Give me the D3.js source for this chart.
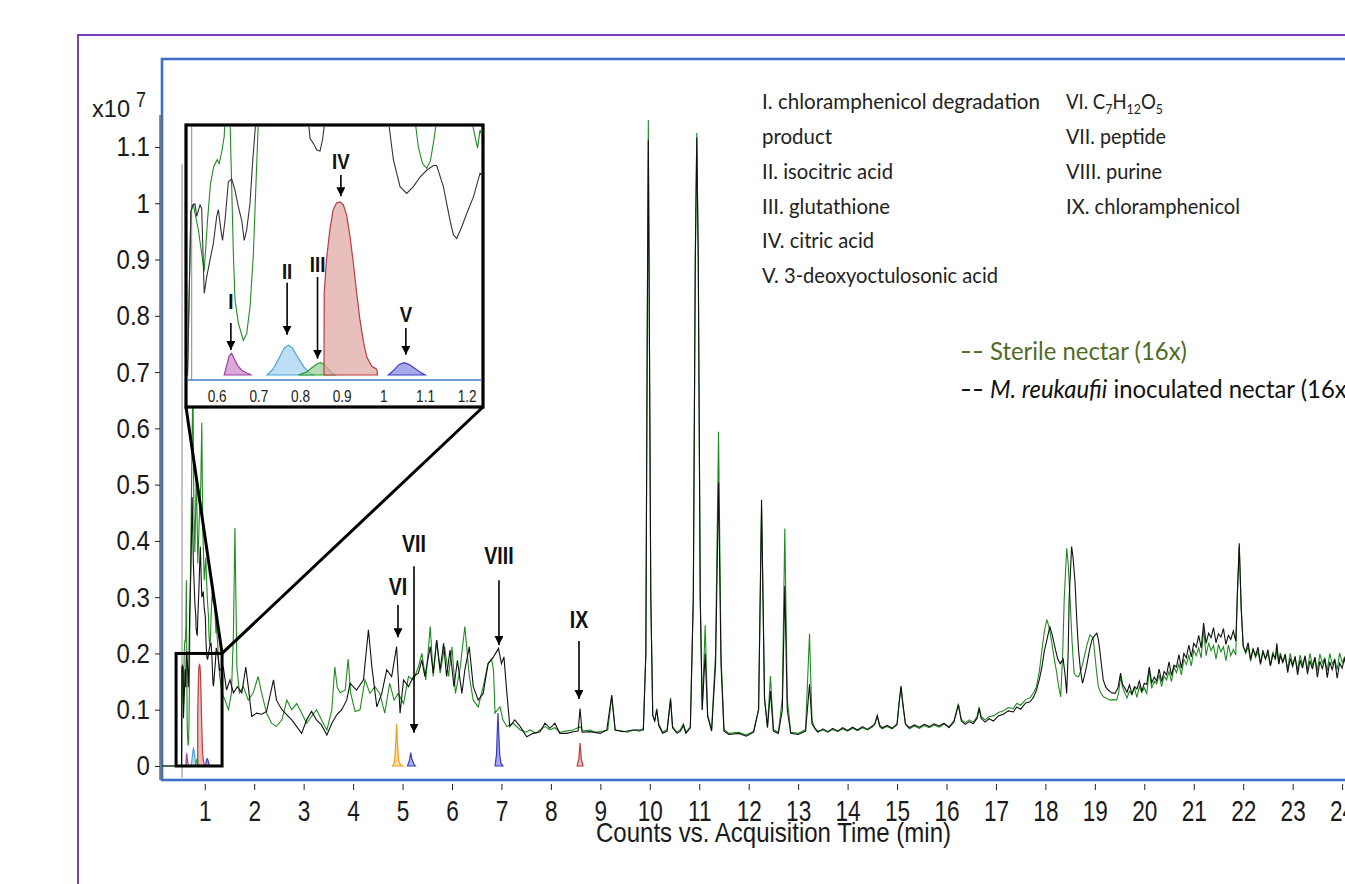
<!DOCTYPE html>
<html><head><meta charset="utf-8">
<script src="https://cdn.jsdelivr.net/npm/d3@7"></script>
<style>body{margin:0;background:#fff;overflow:hidden} svg{display:block}</style>
</head><body>
<svg id="c" width="1345" height="884"></svg>
<script>
// ---------------- DATA ----------------
const yTickValues = [0,0.1,0.2,0.3,0.4,0.5,0.6,0.7,0.8,0.9,1,1.1];
const yTickLabels = ["0","0.1","0.2","0.3","0.4","0.5","0.6","0.7","0.8","0.9","1","1.1"];
const xTickValues = [1,2,3,4,5,6,7,8,9,10,11,12,13,14,15,16,17,18,19,20,21,22,23,24];
const insetTickValues = [0.6,0.7,0.8,0.9,1,1.1,1.2];
const insetTickLabels = ["0.6","0.7","0.8","0.9","1","1.1","1.2"];

// Sterile nectar (green) TIC: [time (min), counts x10^7]
const sterileTrace = [
[0.14,0],[0.53,0],[0.538,0.17],[0.544,0.177],[0.556,0.151],[0.570,0.108],[0.578,0.161],[0.585,0.199],[0.593,0.217],[0.601,0.224],[0.606,0.220],[0.612,0.232],[0.618,0.248],[0.624,0.30],[0.628,0.33],[0.632,0.265],[0.636,0.196],[0.640,0.126],[0.644,0.078],[0.652,0.054],[0.664,0.036],[0.672,0.043],[0.680,0.071],[0.688,0.126],[0.694,0.196],[0.700,0.265],[0.72,0.40],[0.74,0.55],[0.76,0.69],[0.78,0.46],[0.80,0.38],[0.83,0.52],[0.86,0.36],[0.89,0.44],[0.92,0.50],[0.94,0.61],[0.96,0.42],[0.99,0.33],[1.02,0.37],[1.05,0.30],[1.076,0.265],[1.084,0.237],[1.094,0.220],[1.104,0.215],[1.113,0.223],[1.121,0.244],[1.128,0.265],[1.15,0.31],[1.17,0.29],[1.19,0.30],[1.212,0.265],[1.220,0.248],[1.226,0.236],[1.232,0.255],[1.26,0.22],[1.30,0.16],[1.35,0.13],[1.41,0.117],[1.48,0.10],[1.54,0.13],[1.58,0.236],[1.61,0.423],[1.65,0.176],[1.70,0.13],[1.78,0.141],[1.88,0.117],[1.98,0.13],[2.08,0.159],[2.15,0.13],[2.25,0.094],[2.35,0.076],[2.45,0.07],[2.56,0.082],[2.66,0.117],[2.76,0.10],[2.86,0.111],[2.96,0.094],[3.06,0.076],[3.16,0.088],[3.26,0.10],[3.36,0.082],[3.47,0.064],[3.57,0.10],[3.63,0.176],[3.68,0.14],[3.74,0.13],[3.84,0.135],[3.90,0.19],[3.95,0.13],[4.04,0.097],[4.14,0.10],[4.24,0.153],[4.34,0.129],[4.44,0.141],[4.54,0.129],[4.64,0.094],[4.74,0.147],[4.83,0.117],[4.91,0.129],[5.02,0.111],[5.12,0.159],[5.22,0.153],[5.32,0.176],[5.39,0.20],[5.47,0.153],[5.56,0.248],[5.62,0.159],[5.69,0.224],[5.76,0.165],[5.85,0.212],[5.93,0.159],[6.00,0.212],[6.07,0.129],[6.16,0.171],[6.26,0.248],[6.35,0.159],[6.43,0.117],[6.53,0.105],[6.63,0.141],[6.73,0.182],[6.80,0.19],[6.84,0.17],[6.87,0.094],[6.92,0.10],[6.97,0.105],[7.03,0.082],[7.11,0.07],[7.24,0.076],[7.38,0.064],[7.50,0.060],[7.58,0.064],[7.70,0.058],[7.78,0.064],[7.88,0.070],[7.98,0.064],[8.08,0.068],[8.18,0.060],[8.30,0.062],[8.45,0.064],[8.59,0.070],[8.65,0.062],[8.79,0.064],[8.90,0.060],[9.05,0.062],[9.15,0.064],[9.23,0.123],[9.30,0.064],[9.45,0.062],[9.55,0.060],[9.67,0.064],[9.80,0.062],[9.87,0.067],[9.92,0.2],[9.95,0.8],[9.97,1.148],[9.99,0.8],[10.02,0.3],[10.06,0.09],[10.10,0.08],[10.14,0.102],[10.18,0.075],[10.26,0.06],[10.35,0.065],[10.42,0.121],[10.46,0.07],[10.55,0.06],[10.62,0.065],[10.68,0.075],[10.73,0.06],[10.82,0.07],[10.88,0.3],[10.92,0.9],[10.95,1.125],[10.98,0.9],[11.02,0.3],[11.06,0.1],[11.12,0.25],[11.17,0.09],[11.25,0.065],[11.33,0.2],[11.39,0.594],[11.44,0.2],[11.50,0.065],[11.60,0.058],[11.80,0.060],[11.95,0.055],[12.10,0.062],[12.20,0.10],[12.26,0.457],[12.32,0.12],[12.38,0.07],[12.44,0.16],[12.50,0.065],[12.60,0.06],[12.68,0.12],[12.73,0.422],[12.78,0.12],[12.85,0.06],[13.00,0.058],[13.15,0.065],[13.23,0.235],[13.28,0.08],
[13.35,0.066],[13.4,0.062],[13.5,0.064],[13.6,0.06],[13.7,0.065],[13.8,0.061],[13.9,0.066],[14.0,0.062],[14.1,0.067],[14.2,0.063],[14.3,0.068],[14.4,0.064],[14.5,0.069],[14.55,0.074],[14.6,0.088],[14.65,0.07],[14.7,0.066],[14.8,0.07],[14.9,0.066],[15.0,0.073],[15.05,0.118],[15.08,0.14],[15.12,0.105],[15.17,0.074],[15.25,0.066],[15.35,0.071],[15.45,0.067],[15.55,0.072],[15.65,0.068],[15.75,0.073],[15.85,0.069],[15.95,0.074],[16.05,0.07],[16.15,0.08],[16.24,0.111],[16.3,0.083],[16.38,0.077],[16.46,0.082],[16.54,0.078],[16.62,0.088],[16.66,0.105],[16.7,0.088],[16.78,0.082],[16.86,0.088],[16.95,0.089],[17.05,0.095],[17.15,0.098],[17.25,0.104],[17.35,0.102],[17.42,0.111],[17.5,0.108],[17.6,0.118],[17.69,0.121],[17.76,0.13],[17.82,0.141],[17.88,0.17],[17.93,0.206],[17.98,0.24],[18.03,0.26],[18.08,0.245],[18.12,0.224],[18.18,0.19],[18.23,0.165],[18.27,0.14],[18.31,0.123],[18.35,0.2],[18.38,0.295],[18.43,0.387],[18.46,0.36],[18.50,0.295],[18.54,0.22],[18.58,0.165],[18.62,0.16],[18.67,0.159],[18.72,0.17],[18.77,0.188],[18.84,0.215],[18.90,0.233],[18.94,0.23],[18.97,0.224],[19.02,0.18],[19.07,0.141],[19.12,0.13],[19.17,0.123],[19.24,0.12],[19.31,0.117],[19.38,0.118],[19.44,0.117],[19.48,0.13],[19.52,0.159],[19.56,0.14],[19.61,0.129],
[19.65,0.121],[19.7,0.133],[19.75,0.127],[19.8,0.139],[19.85,0.122],[19.9,0.141],[19.95,0.131],[20.0,0.139],[20.05,0.129],[20.1,0.171],[20.15,0.138],[20.2,0.151],[20.25,0.146],[20.3,0.162],[20.35,0.141],[20.4,0.16],[20.45,0.153],[20.5,0.168],[20.55,0.15],[20.6,0.176],[20.65,0.166],[20.7,0.181],[20.75,0.162],[20.8,0.19],[20.85,0.18],[20.9,0.196],[20.95,0.178],[21.0,0.206],[21.05,0.196],[21.1,0.21],[21.15,0.192],[21.2,0.242],[21.25,0.196],[21.3,0.219],[21.35,0.205],[21.4,0.214],[21.45,0.19],[21.5,0.216],[21.55,0.203],[21.6,0.212],[21.65,0.187],[21.7,0.215],[21.75,0.196],[21.8,0.207],[21.85,0.197],[21.88,0.3],[21.92,0.39],[21.96,0.28],[22.0,0.214],[22.05,0.2],[22.1,0.212],[22.15,0.186],[22.2,0.208],[22.25,0.193],[22.3,0.204],[22.35,0.18],[22.4,0.206],[22.45,0.191],[22.5,0.199],[22.55,0.178],[22.6,0.203],[22.65,0.188],[22.68,0.206],[22.72,0.182],[22.75,0.201],[22.8,0.186],[22.85,0.194],[22.9,0.172],[22.95,0.2],[23.0,0.181],[23.05,0.192],[23.1,0.17],[23.15,0.197],[23.2,0.18],[23.25,0.194],[23.3,0.171],[23.35,0.2],[23.4,0.179],[23.45,0.193],[23.5,0.17],[23.55,0.199],[23.6,0.183],[23.65,0.192],[23.7,0.169],[23.75,0.2],[23.8,0.181],[23.85,0.19],[23.9,0.171],[23.95,0.201],[24.0,0.184],[24.05,0.193],[24.1,0.176]
];

// M. reukaufii inoculated nectar (black) TIC
const inoculatedTrace = [
[0.14,0],[0.53,0],[0.538,0.17],[0.542,0.177],[0.548,0.178],[0.552,0.165],[0.560,0.177],[0.564,0.173],[0.570,0.085],[0.576,0.102],[0.584,0.120],[0.592,0.137],[0.600,0.165],[0.604,0.172],[0.610,0.151],[0.614,0.140],[0.620,0.161],[0.628,0.201],[0.636,0.204],[0.644,0.192],[0.652,0.175],[0.660,0.161],[0.666,0.140],[0.672,0.151],[0.680,0.179],[0.686,0.220],[0.694,0.265],[0.72,0.35],[0.745,0.478],[0.77,0.36],[0.80,0.29],[0.820,0.265],[0.824,0.246],[0.832,0.241],[0.840,0.234],[0.848,0.233],[0.854,0.245],[0.860,0.265],[0.88,0.31],[0.91,0.39],[0.94,0.30],[0.97,0.31],[0.99,0.28],[1.012,0.265],[1.024,0.224],[1.040,0.196],[1.056,0.189],[1.072,0.196],[1.088,0.206],[1.104,0.213],[1.120,0.218],[1.128,0.218],[1.144,0.196],[1.160,0.161],[1.168,0.146],[1.176,0.142],[1.188,0.154],[1.200,0.168],[1.216,0.185],[1.232,0.210],[1.26,0.20],[1.30,0.17],[1.375,0.176],[1.44,0.135],[1.51,0.153],[1.58,0.13],[1.66,0.141],[1.75,0.13],[1.83,0.176],[1.88,0.141],[1.95,0.088],[2.05,0.094],[2.15,0.092],[2.25,0.097],[2.39,0.153],[2.45,0.117],[2.56,0.10],[2.66,0.091],[2.76,0.082],[2.86,0.07],[2.96,0.058],[3.06,0.082],[3.16,0.097],[3.26,0.082],[3.36,0.073],[3.47,0.055],[3.57,0.076],[3.67,0.091],[3.77,0.10],[3.87,0.117],[3.94,0.147],[4.07,0.135],[4.21,0.153],[4.31,0.242],[4.38,0.176],[4.48,0.105],[4.58,0.129],[4.68,0.171],[4.78,0.159],[4.88,0.212],[4.95,0.094],[5.02,0.153],[5.12,0.141],[5.22,0.159],[5.32,0.165],[5.39,0.188],[5.45,0.159],[5.56,0.212],[5.62,0.165],[5.69,0.224],[5.76,0.171],[5.83,0.218],[5.89,0.159],[5.96,0.206],[6.04,0.141],[6.11,0.188],[6.20,0.129],[6.26,0.171],[6.35,0.212],[6.43,0.141],[6.53,0.117],[6.63,0.129],[6.73,0.182],[6.84,0.194],[6.94,0.209],[7.00,0.182],[7.05,0.194],[7.11,0.129],[7.17,0.07],[7.27,0.082],[7.38,0.07],[7.51,0.052],[7.64,0.058],[7.78,0.061],[7.88,0.076],[7.98,0.067],[8.08,0.076],[8.18,0.058],[8.32,0.058],[8.45,0.061],[8.55,0.062],[8.59,0.102],[8.63,0.06],[8.79,0.061],[9.00,0.058],[9.13,0.064],[9.23,0.126],[9.30,0.064],[9.46,0.061],[9.67,0.064],[9.87,0.064],[9.92,0.2],[9.95,0.8],[9.97,1.113],[9.99,0.8],[10.02,0.3],[10.06,0.09],[10.10,0.08],[10.14,0.10],[10.18,0.072],[10.26,0.058],[10.35,0.062],[10.42,0.118],[10.46,0.068],[10.55,0.058],[10.62,0.062],[10.68,0.072],[10.73,0.058],[10.82,0.068],[10.88,0.3],[10.92,0.9],[10.95,1.117],[10.98,0.9],[11.02,0.3],[11.06,0.1],[11.12,0.2],[11.17,0.088],[11.25,0.062],[11.33,0.18],[11.39,0.504],[11.44,0.18],[11.50,0.062],[11.60,0.056],[11.80,0.058],[11.95,0.053],[12.10,0.06],[12.20,0.10],[12.26,0.473],[12.32,0.12],[12.38,0.068],[12.44,0.133],[12.50,0.062],[12.60,0.058],[12.68,0.10],[12.73,0.32],[12.78,0.10],[12.85,0.058],[13.00,0.056],[13.15,0.062],[13.23,0.145],[13.28,0.075],
[13.35,0.065],[13.4,0.060],[13.5,0.066],[13.6,0.061],[13.7,0.067],[13.8,0.062],[13.9,0.068],[14.0,0.063],[14.1,0.069],[14.2,0.064],[14.3,0.070],[14.4,0.065],[14.5,0.071],[14.55,0.075],[14.6,0.090],[14.65,0.072],[14.7,0.068],[14.8,0.072],[14.9,0.067],[15.0,0.075],[15.05,0.12],[15.08,0.142],[15.12,0.11],[15.17,0.075],[15.25,0.068],[15.35,0.073],[15.45,0.069],[15.55,0.074],[15.65,0.070],[15.75,0.075],[15.85,0.071],[15.95,0.076],[16.05,0.068],[16.15,0.078],[16.24,0.108],[16.3,0.08],[16.38,0.074],[16.46,0.079],[16.54,0.075],[16.62,0.085],[16.66,0.102],[16.7,0.085],[16.78,0.078],[16.86,0.084],[16.95,0.080],[17.05,0.089],[17.15,0.092],[17.25,0.098],[17.35,0.096],[17.42,0.105],[17.5,0.101],[17.6,0.112],[17.69,0.114],[17.76,0.122],[17.82,0.135],[17.88,0.155],[17.93,0.176],[17.98,0.205],[18.03,0.224],[18.09,0.248],[18.14,0.232],[18.19,0.212],[18.25,0.19],[18.3,0.182],[18.36,0.19],[18.4,0.16],[18.43,0.129],[18.46,0.2],[18.48,0.295],[18.53,0.39],[18.56,0.37],[18.60,0.325],[18.64,0.25],[18.67,0.206],[18.71,0.17],[18.75,0.147],[18.79,0.16],[18.83,0.176],[18.89,0.205],[18.94,0.224],[19.0,0.232],[19.04,0.236],[19.07,0.225],[19.10,0.206],[19.14,0.175],[19.17,0.153],[19.22,0.14],[19.27,0.135],[19.34,0.13],[19.41,0.129],[19.47,0.14],[19.52,0.165],[19.56,0.145],[19.61,0.138],
[19.65,0.131],[19.7,0.144],[19.75,0.128],[19.8,0.141],[19.85,0.137],[19.9,0.151],[19.95,0.133],[20.0,0.147],[20.05,0.145],[20.1,0.176],[20.15,0.148],[20.2,0.158],[20.25,0.151],[20.3,0.172],[20.35,0.150],[20.4,0.168],[20.45,0.162],[20.5,0.185],[20.55,0.161],[20.6,0.179],[20.65,0.176],[20.7,0.198],[20.75,0.174],[20.8,0.2],[20.85,0.192],[20.9,0.215],[20.95,0.194],[21.0,0.218],[21.05,0.211],[21.1,0.232],[21.15,0.21],[21.2,0.254],[21.25,0.218],[21.3,0.236],[21.35,0.228],[21.4,0.246],[21.45,0.219],[21.5,0.235],[21.55,0.229],[21.6,0.244],[21.65,0.216],[21.7,0.232],[21.75,0.225],[21.8,0.24],[21.85,0.222],[21.88,0.3],[21.92,0.396],[21.96,0.28],[22.0,0.212],[22.05,0.203],[22.1,0.219],[22.15,0.19],[22.2,0.208],[22.25,0.196],[22.3,0.211],[22.35,0.182],[22.4,0.203],[22.45,0.19],[22.5,0.207],[22.55,0.178],[22.6,0.198],[22.65,0.192],[22.68,0.218],[22.72,0.181],[22.75,0.196],[22.8,0.184],[22.85,0.199],[22.9,0.166],[22.95,0.191],[23.0,0.177],[23.05,0.195],[23.1,0.162],[23.15,0.188],[23.2,0.174],[23.25,0.196],[23.3,0.163],[23.35,0.187],[23.4,0.172],[23.45,0.193],[23.5,0.158],[23.55,0.186],[23.6,0.173],[23.65,0.19],[23.7,0.157],[23.75,0.185],[23.8,0.171],[23.85,0.189],[23.9,0.156],[23.95,0.183],[24.0,0.174],[24.05,0.192],[24.1,0.165]
];

// Extracted-ion peaks (filled)
const peakI    = [[0.618,0],[0.624,0.010],[0.630,0.020],[0.636,0.0226],[0.642,0.017],[0.650,0.010],[0.660,0.005],[0.672,0.002],[0.684,0]];
const peakII   = [[0.721,0],[0.735,0.006],[0.750,0.018],[0.762,0.028],[0.772,0.031],[0.782,0.028],[0.795,0.018],[0.810,0.008],[0.822,0.003],[0.832,0]];
const peakIII  = [[0.796,0],[0.815,0.003],[0.830,0.008],[0.842,0.012],[0.850,0.0128],[0.858,0.011],[0.868,0.006],[0.878,0.002],[0.884,0]];
const peakIV   = [[0.8575,0],[0.858,0.085],[0.8635,0.12],[0.8715,0.151],[0.8795,0.172],[0.8875,0.179],[0.896,0.180],[0.904,0.177],[0.912,0.166],[0.920,0.144],[0.928,0.116],[0.936,0.085],[0.944,0.057],[0.952,0.035],[0.960,0.019],[0.972,0.009],[0.984,0.006],[0.986,0]];
const peakV    = [[1.012,0],[1.025,0.005],[1.038,0.011],[1.050,0.0128],[1.062,0.011],[1.075,0.007],[1.088,0.003],[1.100,0]];
const peakVI   = [[4.80,0],[4.84,0.008],[4.865,0.045],[4.88,0.075],[4.895,0.045],[4.92,0.010],[4.96,0.002],[5.00,0]];
const peakVII  = [[5.10,0],[5.14,0.010],[5.165,0.024],[5.19,0.012],[5.23,0.003],[5.26,0]];
const peakVIII = [[6.87,0],[6.90,0.02],[6.915,0.06],[6.93,0.094],[6.945,0.06],[6.965,0.02],[6.99,0.005],[7.03,0]];
const peakIX   = [[8.53,0],[8.565,0.012],[8.59,0.041],[8.615,0.012],[8.65,0]];

// annotations: label, time, arrow tip value, arrow tail value, label value
const mainAnnotations = [
  {label:"VI",   t:4.908, tip:0.229, tail:0.286, lab:0.318},
  {label:"VII",  t:5.232, tip:0.059, tail:0.355, lab:0.393},
  {label:"VIII", t:6.950, tip:0.215, tail:0.330, lab:0.373},
  {label:"IX",   t:8.568, tip:0.119, tail:0.222, lab:0.259}
];
const insetAnnotations = [
  {label:"I",   t:0.634, tip:0.026, tail:0.054, lab:0.077},
  {label:"II",  t:0.769, tip:0.042, tail:0.096, lab:0.108},
  {label:"III", t:0.842, tip:0.017, tail:0.102, lab:0.115},
  {label:"IV",  t:0.898, tip:0.186, tail:0.208, lab:0.222},
  {label:"V",   t:1.054, tip:0.021, tail:0.049, lab:0.063}
];
const cursorTime = 0.54, cursorTop = 1.07;
const zoomBoxTime = [0.42, 1.35], zoomBoxValue = [0, 0.2];

const compoundsLeft = ["I. chloramphenicol degradation","product","II. isocitric acid","III. glutathione","IV. citric acid","V. 3-deoxyoctulosonic acid"];
const compoundsRight = ["VI. C7H12O5","VII. peptide","VIII. purine","IX. chloramphenicol"];
const seriesNames = ["Sterile nectar (16x)","M. reukaufii inoculated nectar (16x)"];

// ---------------- DRAWING ----------------
const svg = d3.select("#c");
const AR = "'Liberation Sans', Arial, sans-serif";
const CAL = "Lato, 'Open Sans', sans-serif";
const x = d3.scaleLinear().domain([0,24]).range([155.3,1342.1]);
const y = d3.scaleLinear().domain([0,1.1]).range([766,147]);

function condense(sel,k){
  sel.each(function(){
    const t=d3.select(this); const xv=+t.attr("x")||0;
    t.attr("x",xv/k).attr("transform",`scale(${k},1)`);
  });
}

// frames
svg.append("rect").attr("x",78).attr("y",35).attr("width",1400).attr("height",1000)
  .attr("fill","none").attr("stroke","#7b3fba").attr("stroke-width",2);
svg.append("rect").attr("x",162).attr("y",59).attr("width",1300).attr("height",721)
  .attr("fill","none").attr("stroke","#3e6fc7").attr("stroke-width",2.6);

const defs = svg.append("defs");
defs.append("marker").attr("id","ah").attr("viewBox","0 0 10 10").attr("refX",10).attr("refY",5)
  .attr("markerUnits","userSpaceOnUse").attr("markerWidth",9).attr("markerHeight",9).attr("orient","auto")
  .append("path").attr("d","M0,0 L10,5 L0,10 z").attr("fill","#000");

// y axis
const gy = svg.append("g").attr("transform","translate(160,0)")
  .call(d3.axisLeft(y).tickValues(yTickValues).tickSize(5).tickPadding(5).tickFormat((d,i)=>yTickLabels[i]));
gy.select(".domain").remove();
gy.selectAll(".tick line").attr("stroke","#222");
gy.selectAll(".tick text").attr("font-family",AR).attr("font-size",28).attr("fill","#1a1a1a");
condense(gy.selectAll(".tick text"),0.86);
svg.append("line").attr("x1",160).attr("x2",160).attr("y1",115).attr("y2",780).attr("stroke","#222").attr("stroke-width",1);

// x axis
const gx = svg.append("g").attr("transform","translate(0,784)")
  .call(d3.axisBottom(x).tickValues(xTickValues).tickSize(6).tickPadding(10).tickFormat(d=>d));
gx.select(".domain").remove();
gx.selectAll(".tick line").attr("stroke","#222");
gx.selectAll(".tick text").attr("font-family",AR).attr("font-size",29).attr("fill","#1a1a1a");
condense(gx.selectAll(".tick text"),0.78);

svg.append("text").attr("x",773.5).attr("y",842).attr("text-anchor","middle")
  .attr("font-family",AR).attr("font-size",28).attr("fill","#1a1a1a")
  .attr("textLength",355).attr("lengthAdjust","spacingAndGlyphs")
  .text("Counts vs. Acquisition Time (min)");

// multiplier
svg.append("text").attr("x",92).attr("y",117).attr("font-family",AR).attr("font-size",24).attr("fill","#1a1a1a")
  .attr("textLength",38).attr("lengthAdjust","spacingAndGlyphs").text("x10");
svg.append("text").attr("x",136).attr("y",107).attr("font-family",AR).attr("font-size",22).attr("fill","#1a1a1a")
  .attr("textLength",10).attr("lengthAdjust","spacingAndGlyphs").text("7");

// traces
const line = d3.line().x(d=>x(d[0])).y(d=>y(d[1]));
svg.append("line").attr("x1",x(cursorTime)).attr("x2",x(cursorTime)).attr("y1",y(cursorTop)).attr("y2",778)
  .attr("stroke","#8a8a8a").attr("stroke-width",1);
svg.append("path").datum(sterileTrace).attr("d",line).attr("fill","none").attr("stroke","#1e8c1e").attr("stroke-width",1.1);
svg.append("path").datum(inoculatedTrace).attr("d",line).attr("fill","none").attr("stroke","#111").attr("stroke-width",1.1);

const peakStyles = [
  {d:peakI,   s:"#a43fa4", f:"#cc8ccc"},
  {d:peakII,  s:"#4aa3e0", f:"#a8d3f2"},
  {d:peakIII, s:"#2e9e2e", f:"#9ccf9c"},
  {d:peakIV,  s:"#c0393b", f:"#e2a9a8"},
  {d:peakV,   s:"#3a3ac8", f:"#8b8be6"},
  {d:peakVI,  s:"#f0a01e", f:"#f6cc80"},
  {d:peakVII, s:"#3a3ac8", f:"#9a9ae8"},
  {d:peakVIII,s:"#3a3ac8", f:"#8b8be6"},
  {d:peakIX,  s:"#c0393b", f:"#e2a9a8"}
];
const area = d3.area().x(d=>x(d[0])).y0(y(0)).y1(d=>y(d[1]));
peakStyles.forEach(p=>{
  svg.append("path").datum(p.d).attr("d",area).attr("fill",p.f).attr("fill-opacity",0.75)
    .attr("stroke",p.s).attr("stroke-width",1.2);
});

function drawAnn(g, list, xs, ys, fs){
  list.forEach(a=>{
    g.append("line").attr("x1",xs(a.t)).attr("x2",xs(a.t)).attr("y1",ys(a.tail)).attr("y2",ys(a.tip))
      .attr("stroke","#000").attr("stroke-width",1.6).attr("marker-end","url(#ah)");
    g.append("text").attr("transform",`translate(${xs(a.t)},${ys(a.lab)}) scale(0.85,1)`)
      .attr("text-anchor","middle").attr("dominant-baseline","central")
      .attr("font-family",AR).attr("font-weight","bold").attr("font-size",fs).attr("fill","#111").text(a.label);
  });
}
drawAnn(svg, mainAnnotations, x, y, 23);

// zoom box and connectors
const bx0=x(zoomBoxTime[0]), bx1=x(zoomBoxTime[1]), by0=y(zoomBoxValue[1]), by1=y(zoomBoxValue[0]);
svg.append("rect").attr("x",bx0).attr("y",by0).attr("width",bx1-bx0).attr("height",by1-by0)
  .attr("fill","none").attr("stroke","#000").attr("stroke-width",3);
const inset = {x:186, y:125, w:297, h:282};
svg.append("line").attr("x1",inset.x).attr("y1",inset.y+inset.h).attr("x2",bx1).attr("y2",by0).attr("stroke","#000").attr("stroke-width",3);
svg.append("line").attr("x1",inset.x+inset.w).attr("y1",inset.y+inset.h).attr("x2",bx1).attr("y2",by0).attr("stroke","#000").attr("stroke-width",3);

// ---------------- INSET ----------------
const gi = svg.append("g");
gi.append("rect").attr("x",inset.x).attr("y",inset.y).attr("width",inset.w).attr("height",inset.h).attr("fill","#fff");
const xi = d3.scaleLinear().domain([0.6,1.2]).range([216.7,466.7]);
const yi = d3.scaleLinear().domain([0,0.18]).range([375,202]);
defs.append("clipPath").attr("id","ic").append("rect").attr("x",inset.x+1.5).attr("y",inset.y+1.5).attr("width",inset.w-3).attr("height",380-inset.y-1.5);
const gic = gi.append("g").attr("clip-path","url(#ic)");
gic.append("line").attr("x1",xi(cursorTime)).attr("x2",xi(cursorTime)).attr("y1",inset.y).attr("y2",380).attr("stroke","#8a8a8a").attr("stroke-width",1);
const iline = d3.line().x(d=>xi(d[0])).y(d=>yi(d[1]));
gic.append("path").datum(sterileTrace).attr("d",iline).attr("fill","none").attr("stroke","#1e8c1e").attr("stroke-width",1.1);
gic.append("path").datum(inoculatedTrace).attr("d",iline).attr("fill","none").attr("stroke","#333").attr("stroke-width",1.1);
const iarea = d3.area().x(d=>xi(d[0])).y0(yi(0)).y1(d=>yi(d[1]));
peakStyles.slice(0,5).forEach(p=>{
  gic.append("path").datum(p.d).attr("d",iarea).attr("fill",p.f).attr("fill-opacity",0.75)
    .attr("stroke",p.s).attr("stroke-width",1.2);
});
gi.append("line").attr("x1",inset.x+2).attr("x2",inset.x+inset.w-2).attr("y1",380).attr("y2",380).attr("stroke","#4a7bd0").attr("stroke-width",1.6);
const gix = gi.append("g").attr("transform","translate(0,380)")
  .call(d3.axisBottom(xi).tickValues(insetTickValues).tickSize(0).tickPadding(11).tickFormat((d,i)=>insetTickLabels[i]));
gix.select(".domain").remove();
gix.selectAll(".tick text").attr("font-family",AR).attr("font-size",16).attr("fill","#222");
condense(gix.selectAll(".tick text"),0.85);
drawAnn(gi, insetAnnotations, xi, yi, 22);
gi.append("rect").attr("x",inset.x).attr("y",inset.y).attr("width",inset.w).attr("height",inset.h)
  .attr("fill","none").attr("stroke","#000").attr("stroke-width",3.2);

// ---------------- LEGENDS ----------------
const leftLen = [278,70,131,128,112,236];
const leftBase = [109,144,179,214,248,283];
compoundsLeft.forEach((s,i)=>{
  svg.append("text").attr("x",762).attr("y",leftBase[i]).attr("font-family",CAL).attr("font-size",21)
    .attr("fill","#222").attr("textLength",leftLen[i]).attr("lengthAdjust","spacingAndGlyphs").text(s);
});
const rightLen = [97,100,96,174];
compoundsRight.forEach((s,i)=>{
  const t = svg.append("text").attr("x",1066).attr("y",leftBase[i]).attr("font-family",CAL).attr("font-size",21)
    .attr("fill","#222").attr("textLength",rightLen[i]).attr("lengthAdjust","spacingAndGlyphs");
  const m = s.match(/^(VI\. )C(\d)H(\d+)O(\d)$/);
  if(m){
    t.append("tspan").text(m[1]+"C");
    t.append("tspan").attr("font-size",14).attr("dy",5).text(m[2]);
    t.append("tspan").attr("dy",-5).text("H");
    t.append("tspan").attr("font-size",14).attr("dy",5).text(m[3]);
    t.append("tspan").attr("dy",-5).text("O");
    t.append("tspan").attr("font-size",14).attr("dy",5).text(m[4]);
  } else t.text(s);
});

const olive = "#4f6b24";
svg.append("text").attr("x",960).attr("y",360).attr("font-family",CAL).attr("font-size",25).attr("fill",olive)
  .attr("textLength",24).attr("lengthAdjust","spacingAndGlyphs").text("--");
svg.append("text").attr("x",990).attr("y",360).attr("font-family",CAL).attr("font-size",25).attr("fill",olive)
  .attr("textLength",197).attr("lengthAdjust","spacingAndGlyphs").text(seriesNames[0]);
svg.append("text").attr("x",960).attr("y",398).attr("font-family",CAL).attr("font-size",25).attr("fill","#111")
  .attr("textLength",24).attr("lengthAdjust","spacingAndGlyphs").text("--");
const l2 = svg.append("text").attr("x",990).attr("y",398).attr("font-family",CAL).attr("font-size",25).attr("fill","#111")
  .attr("textLength",363).attr("lengthAdjust","spacingAndGlyphs");
const parts = seriesNames[1].split(" inoculated");
l2.append("tspan").attr("font-style","italic").text(parts[0]);
l2.append("tspan").text(" inoculated"+parts[1]);
</script>
</body></html>
